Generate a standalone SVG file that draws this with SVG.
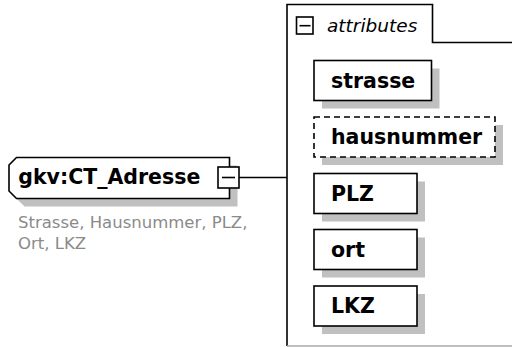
<svg xmlns="http://www.w3.org/2000/svg" width="512" height="347" viewBox="0 0 512 347">
<style>
.shadow{fill:#c0c0c0;stroke:none}
.box{fill:#fff;stroke:#000;stroke-width:1.6}
.dashed{stroke-dasharray:6 4}
.name{font-family:"DejaVu Sans",Verdana,sans-serif;font-weight:bold;font-size:20.5px;fill:#000}
.desc{font-family:"DejaVu Sans",Verdana,sans-serif;font-size:16.5px;fill:#8a8a8a}
.line{fill:none;stroke:#000;stroke-width:1.6}
</style>
<rect width="512" height="347" fill="#fff"/>
<g id="attributes-group">
  <path class="line" d="M287,346 V4.5 H432.5 V42.5 H512"/>
  <path d="M287,346 H512" fill="none" stroke="#a8a8a8" stroke-width="1.6"/>
  <rect class="box" x="296.5" y="17" width="16.5" height="17"/>
  <line class="line" x1="299.5" y1="25.7" x2="310.5" y2="25.7"/>
  <text x="327" y="31.7" font-family="'DejaVu Sans',Verdana,sans-serif" font-style="italic" font-size="18.5" fill="#000">attributes</text>
</g>
<g id="connectors">
  <line class="line" x1="239" y1="177.5" x2="287" y2="177.5"/>
</g>
<g id="CT_Adresse">
  <path class="shadow" d="M24.5,165.5 H237.5 V206.5 H24.5 L17,199 V173 Z"/>
  <path class="box" d="M16.5,157.5 H229.5 V198.5 H16.5 L9,191 V165 Z"/>
  <text class="name" x="18.3" y="184.3">gkv:CT_Adresse</text>
  <rect class="box" x="218" y="167" width="21" height="21"/>
  <line class="line" x1="222" y1="177.5" x2="235" y2="177.5"/>
  <text class="desc" x="18" y="228.3">Strasse, Hausnummer, PLZ,</text>
  <text class="desc" x="18" y="249.3">Ort, LKZ</text>
</g>
<g id="strasse">
  <rect class="shadow" x="322" y="68.5" width="117.5" height="40"/>
  <rect class="box" x="314" y="60.5" width="117.5" height="40"/>
  <text class="name" x="331" y="87.5">strasse</text>
</g>
<g id="hausnummer">
  <rect class="shadow" x="322" y="125" width="181" height="40"/>
  <rect class="box dashed" x="314" y="117" width="181" height="40"/>
  <text class="name" x="331" y="144">hausnummer</text>
</g>
<g id="PLZ">
  <rect class="shadow" x="322" y="181.5" width="103" height="40"/>
  <rect class="box" x="314" y="173.5" width="103" height="40"/>
  <text class="name" x="331" y="200.5">PLZ</text>
</g>
<g id="ort">
  <rect class="shadow" x="322" y="237.5" width="103" height="40"/>
  <rect class="box" x="314" y="229.5" width="103" height="40"/>
  <text class="name" x="331" y="256.5">ort</text>
</g>
<g id="LKZ">
  <rect class="shadow" x="322" y="294" width="103" height="40"/>
  <rect class="box" x="314" y="286" width="103" height="40"/>
  <text class="name" x="331" y="313">LKZ</text>
</g>
</svg>
